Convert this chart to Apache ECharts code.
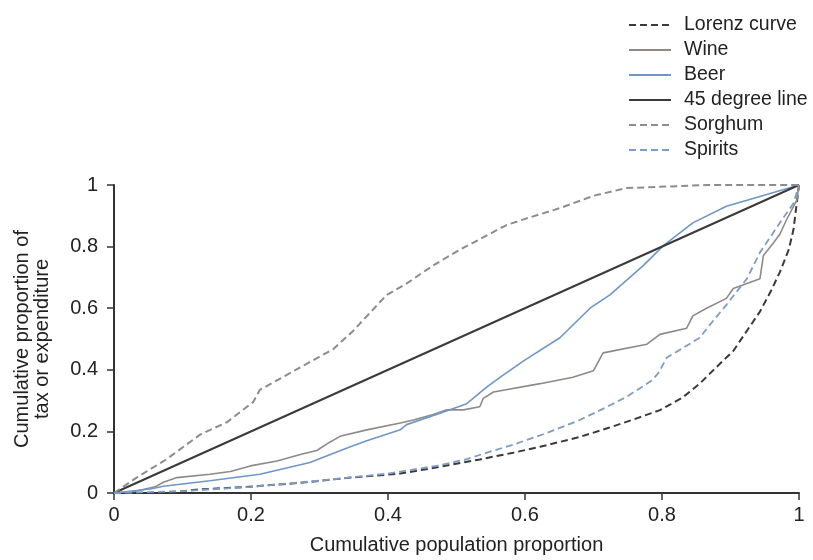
<!DOCTYPE html>
<html>
<head>
<meta charset="utf-8">
<script src="https://cdn.jsdelivr.net/npm/echarts@6/dist/echarts.min.js"></script>
<style>
  html, body { margin: 0; padding: 0; background: #fff; }
  #chart { width: 813px; height: 560px; }
</style>
</head>
<body>
<div id="chart"></div>
<script>
// Concentration curves: cumulative share of tax / expenditure by population share
const seriesNames = ['Lorenz curve', 'Wine', 'Beer', '45 degree line', 'Sorghum', 'Spirits'];
const xTicks = [0, 0.2, 0.4, 0.6, 0.8, 1];
const yTicks = [0, 0.2, 0.4, 0.6, 0.8, 1];

const lorenz = [[0,0],[0.05,0.0],[0.092,0.004],[0.126,0.012],[0.189,0.019],[0.272,0.033],[0.345,0.05],
  [0.418,0.063],[0.476,0.085],[0.534,0.109],[0.583,0.131],[0.622,0.15],[0.68,0.182],[0.72,0.21],
  [0.76,0.24],[0.797,0.269],[0.83,0.31],[0.855,0.355],[0.88,0.41],[0.904,0.461],[0.925,0.53],
  [0.943,0.589],[0.96,0.66],[0.972,0.717],[0.985,0.79],[0.992,0.856],[1,1]];

const wine = [[0,0],[0.03,0.005],[0.06,0.02],[0.072,0.035],[0.092,0.05],[0.14,0.061],[0.17,0.07],
  [0.199,0.088],[0.238,0.104],[0.272,0.125],[0.296,0.138],[0.315,0.165],[0.33,0.184],[0.369,0.205],
  [0.418,0.227],[0.437,0.237],[0.466,0.255],[0.486,0.27],[0.51,0.27],[0.534,0.28],[0.539,0.307],
  [0.554,0.328],[0.622,0.355],[0.67,0.376],[0.7,0.397],[0.714,0.455],[0.778,0.483],[0.797,0.515],
  [0.836,0.535],[0.845,0.575],[0.865,0.6],[0.894,0.632],[0.904,0.664],[0.943,0.696],[0.948,0.771],
  [0.962,0.81],[0.972,0.84],[0.982,0.888],[0.997,0.952],[1,1]];

const beer = [[0,0],[0.053,0.013],[0.072,0.022],[0.14,0.04],[0.213,0.061],[0.286,0.099],[0.345,0.15],
  [0.369,0.17],[0.418,0.205],[0.427,0.222],[0.476,0.259],[0.515,0.29],[0.544,0.344],[0.564,0.376],
  [0.598,0.429],[0.651,0.504],[0.695,0.6],[0.724,0.643],[0.773,0.739],[0.802,0.803],[0.845,0.877],
  [0.894,0.931],[0.943,0.963],[1,1]];

const equality = [[0,0],[1,1]];

const sorghum = [[0,0],[0.033,0.05],[0.077,0.11],[0.126,0.19],[0.165,0.23],[0.203,0.295],[0.213,0.335],
  [0.272,0.408],[0.32,0.467],[0.349,0.526],[0.398,0.643],[0.427,0.68],[0.466,0.739],[0.505,0.79],
  [0.573,0.87],[0.6,0.89],[0.651,0.925],[0.7,0.965],[0.748,0.99],[0.865,1.0],[1,1]];

const spirits = [[0,0],[0.1,0.006],[0.2,0.02],[0.3,0.04],[0.4,0.063],[0.476,0.09],[0.515,0.11],
  [0.55,0.135],[0.583,0.157],[0.632,0.195],[0.68,0.237],[0.72,0.28],[0.748,0.312],[0.785,0.365],
  [0.795,0.39],[0.807,0.44],[0.83,0.47],[0.855,0.504],[0.875,0.56],[0.894,0.611],[0.924,0.696],
  [0.943,0.781],[0.972,0.877],[0.992,0.941],[1,1]];

const FONT = '"Liberation Sans", Arial, Helvetica, sans-serif';
const axisColor = '#333';
const textColor = '#222';

function line(name, data, color, width, dash) {
  return {
    name: name,
    type: 'line',
    data: data,
    symbol: 'none',
    showSymbol: false,
    silent: true,
    animation: false,
    lineStyle: { color: color, width: width, type: dash || 'solid' },
    itemStyle: { color: color }
  };
}

const chart = echarts.init(document.getElementById('chart'), null, { renderer: 'canvas' });
chart.setOption({
  backgroundColor: '#fff',
  animation: false,
  textStyle: { fontFamily: FONT },
  grid: { left: 114, right: 14, top: 185, bottom: 62.5 },
  legend: {
    show: true,
    orient: 'vertical',
    left: 623,
    top: 10,
    itemWidth: 42,
    itemHeight: 14,
    itemGap: 5,
    data: seriesNames,
    itemStyle: { opacity: 0 },
    textStyle: { fontFamily: FONT, fontSize: 19.5, color: textColor, padding: [0, 0, 0, 8] },
    selectedMode: false
  },
  xAxis: {
    type: 'value',
    min: xTicks[0],
    max: xTicks[xTicks.length - 1],
    interval: 0.2,
    name: 'Cumulative population proportion',
    nameLocation: 'middle',
    nameGap: 42,
    nameTextStyle: { fontFamily: FONT, fontSize: 20, color: textColor },
    axisLine: { lineStyle: { color: axisColor, width: 2 } },
    axisTick: { inside: false, length: 7, lineStyle: { color: axisColor, width: 1.5 } },
    axisLabel: { margin: 12, fontSize: 20, color: textColor, fontFamily: FONT },
    splitLine: { show: false }
  },
  yAxis: {
    type: 'value',
    min: yTicks[0],
    max: yTicks[yTicks.length - 1],
    interval: 0.2,
    name: 'Cumulative proportion of\ntax or expenditure',
    nameLocation: 'middle',
    nameGap: 62,
    nameTextStyle: { fontFamily: FONT, fontSize: 20, color: textColor, lineHeight: 20, align: 'center' },
    axisLine: { lineStyle: { color: axisColor, width: 2 } },
    axisTick: { inside: false, length: 7, lineStyle: { color: axisColor, width: 1.5 } },
    axisLabel: { margin: 16, fontSize: 20, color: textColor, fontFamily: FONT },
    splitLine: { show: false }
  },
  series: [
    line('Lorenz curve', lorenz, '#3a3a3a', 2, [7, 4]),
    line('Wine', wine, '#8e8a88', 1.6),
    line('Beer', beer, '#7096c6', 1.6),
    line('45 degree line', equality, '#3a3a3a', 2),
    line('Sorghum', sorghum, '#8c8c8c', 2, [7, 4]),
    line('Spirits', spirits, '#7f9dc4', 1.8, [7, 4])
  ]
});
</script>
</body>
</html>
